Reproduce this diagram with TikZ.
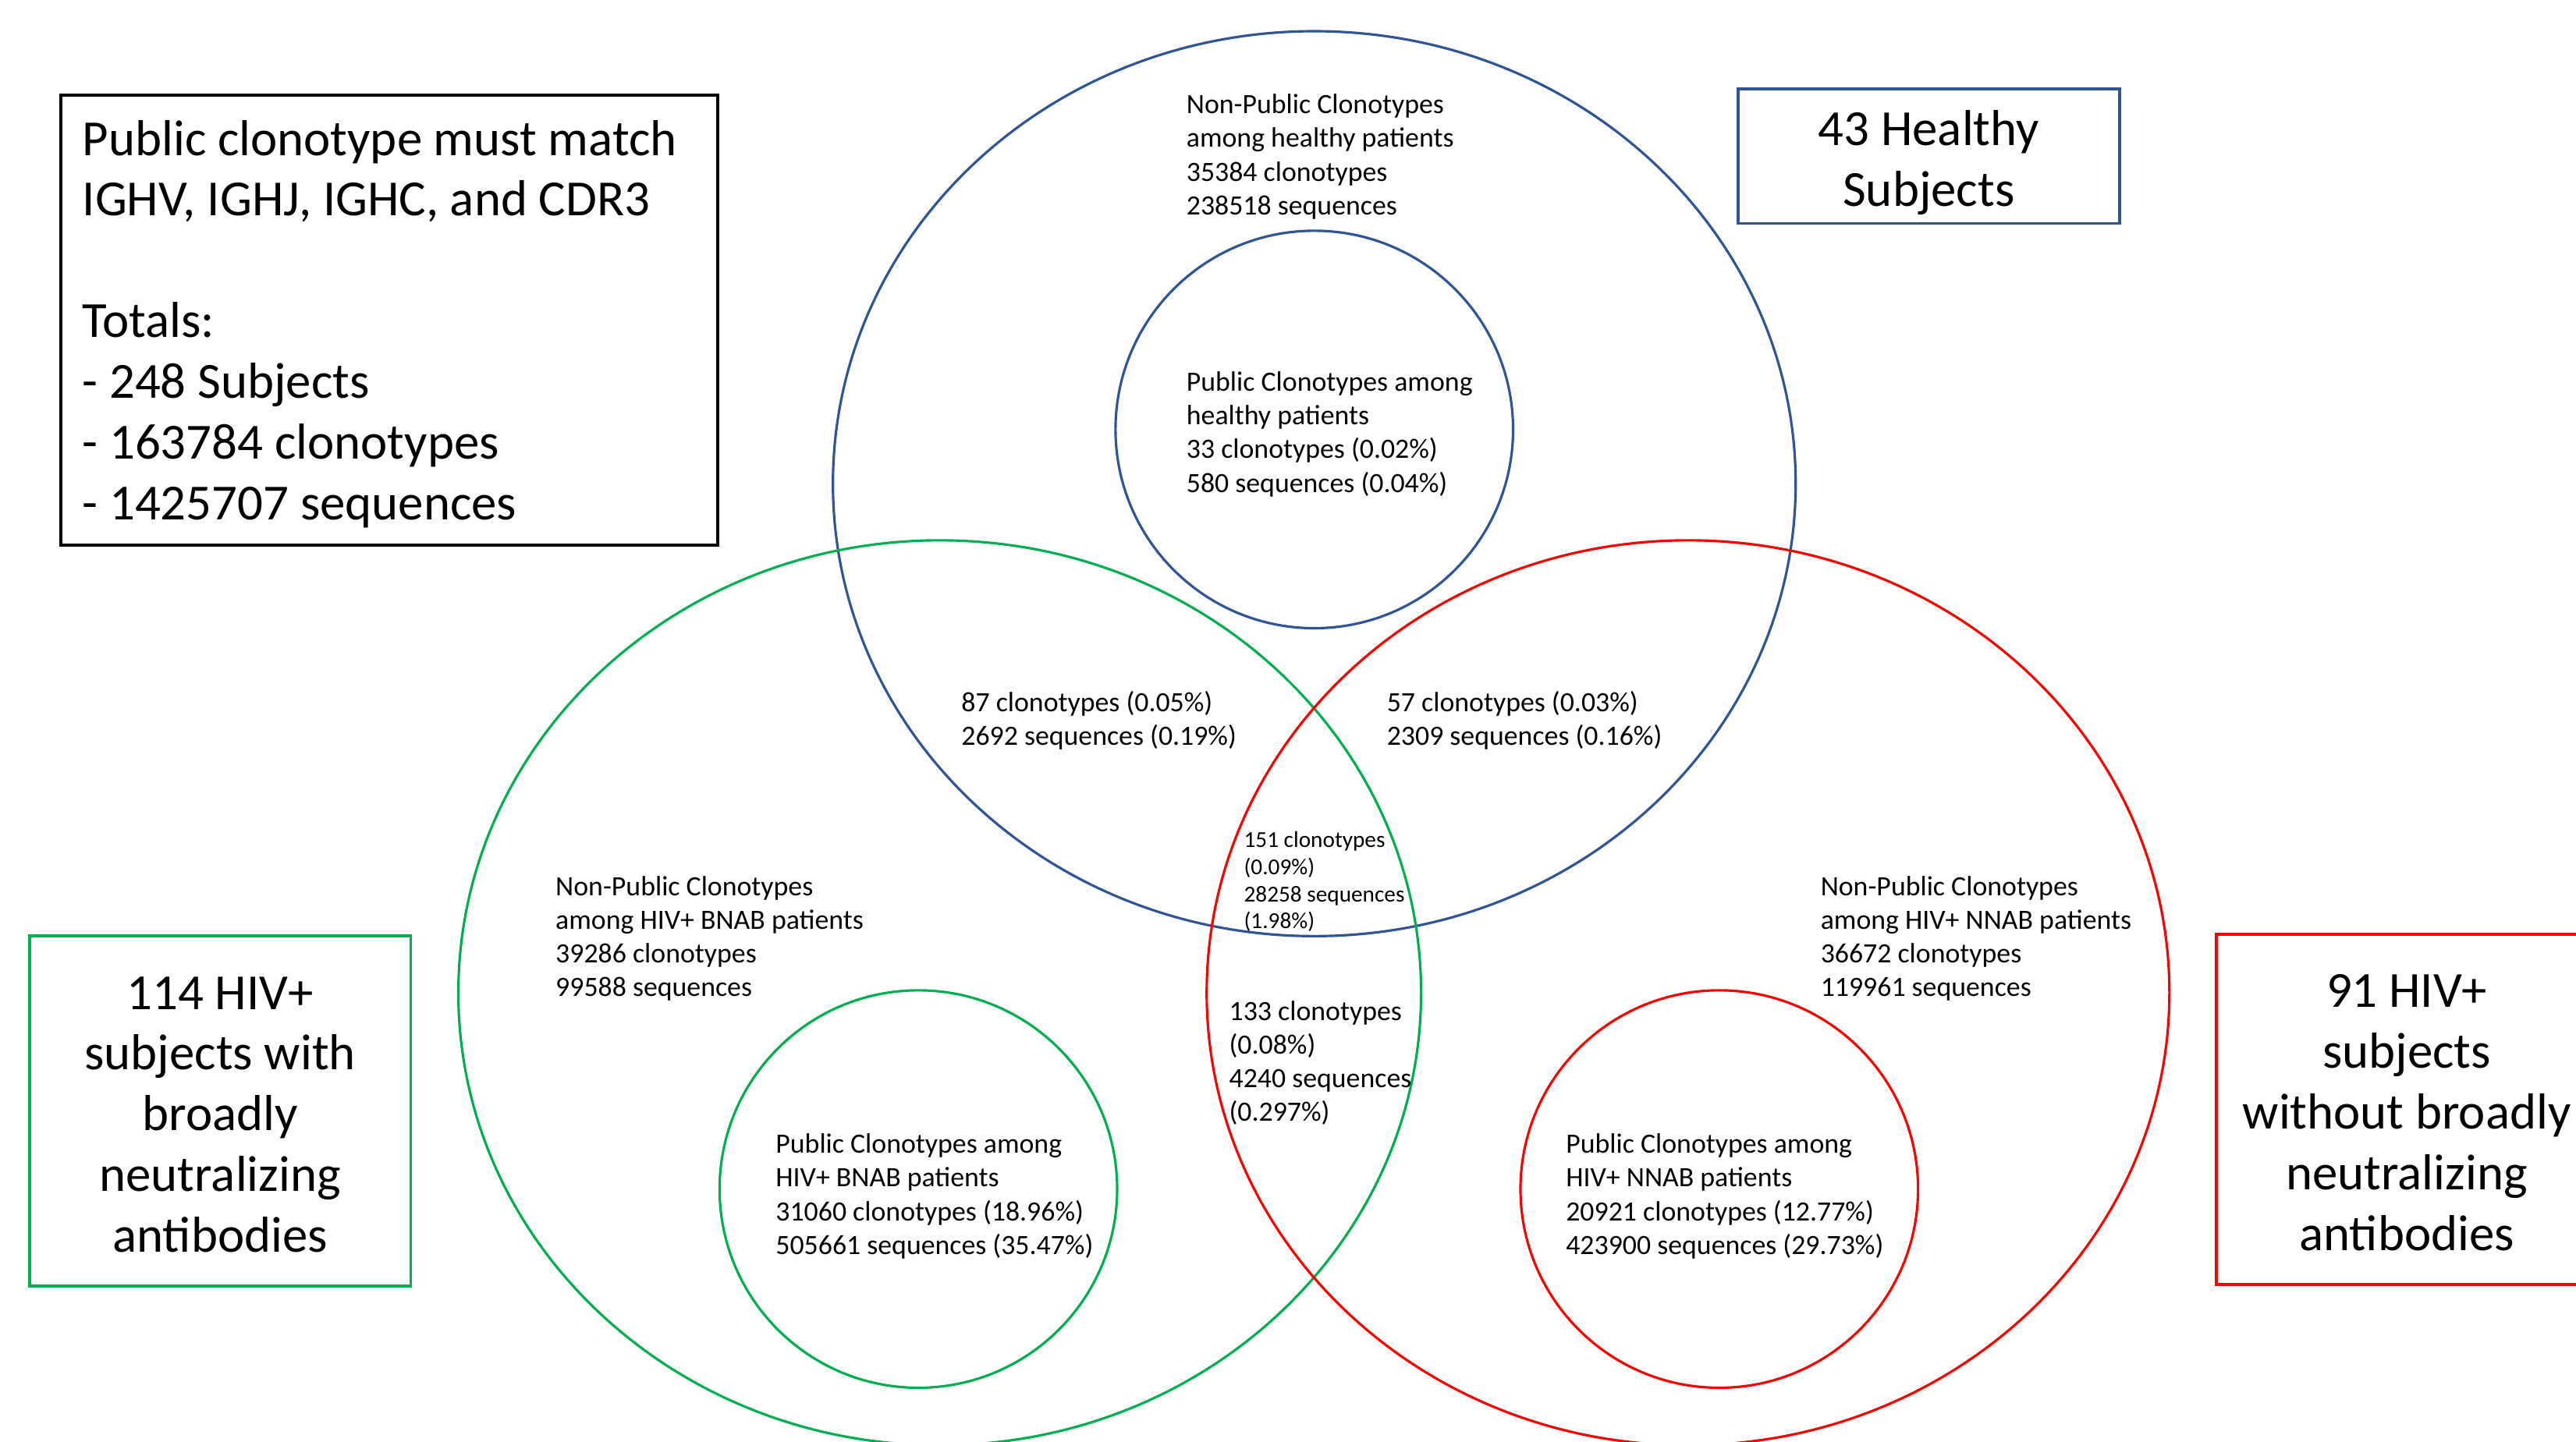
\documentclass[tikz,border=0pt]{standalone}
\usepackage{fontspec}
\setmainfont{Carlito}
\usetikzlibrary{shapes.geometric}
\definecolor{hblue}{HTML}{2F5597}
\definecolor{hgreen}{HTML}{00B050}
\definecolor{hred}{HTML}{FF0000}
\begin{document}
\begin{tikzpicture}[x=1pt,y=-1pt,
  smalltxt/.style={font=\fontsize{17}{20.5}\selectfont, align=left, anchor=north west, inner sep=0pt},
  tinytxt/.style={font=\fontsize{13.9}{16.5}\selectfont, align=left, anchor=north west, inner sep=0pt},
  bigleft/.style={font=\fontsize{30.8}{37}\selectfont, align=left, anchor=north west, inner sep=0pt},
  bigcenter/.style={font=\fontsize{30.8}{37}\selectfont, align=center, anchor=north, inner sep=0pt},
  bigset/.style={ellipse, draw=#1, line width=1.5pt, inner sep=0pt, minimum width=586pt, minimum height=551pt},
  pubset/.style={circle, draw=#1, line width=1.5pt, inner sep=0pt, minimum size=242pt},
  framebox/.style={rectangle, draw=#1, line width=1.8pt, inner sep=0pt}
]
\useasboundingbox (0,0) rectangle (1568,878);
\clip (0,0) rectangle (1568,878);
\fill[white] (0,0) rectangle (1568,878);

% sets
\node[bigset=hblue] (healthy) at (800,294.5) {};
\node[bigset=hgreen] (bnab) at (572,604.5) {};
\node[bigset=hred] (nnab) at (1027.5,604.5) {};
\node[pubset=hblue] (healthypub) at (800,261.5) {};
\node[pubset=hgreen] (bnabpub) at (559,724) {};
\node[pubset=hred] (nnabpub) at (1046.5,724) {};

% frames
\node[framebox=black, minimum width=400pt, minimum height=274pt] (infobox) at (237,195) {};
\node[framebox=hblue, minimum width=232pt, minimum height=82pt] (healthybox) at (1174,95) {};
\node[framebox=hgreen, minimum width=232pt, minimum height=213pt] (bnabbox) at (134,676.5) {};
\node[framebox=hred, minimum width=232pt, minimum height=213pt] (nnabbox) at (1465,675.5) {};

% frame texts
\node[bigleft] (infotext) at (50,68.4) {\strut Public clonotype must match\\IGHV, IGHJ, IGHC, and CDR3\\[37pt]Totals:\\- 248 Subjects\\- 163784 clonotypes\\- 1425707 sequences};
\node[bigcenter] (healthytext) at (1174,62.4) {\strut 43 Healthy\\Subjects};
\node[bigcenter] (bnabtext) at (134,588.4) {\strut 114 HIV+\\subjects with\\broadly\\neutralizing\\antibodies};
\node[bigcenter] (nnabtext) at (1465,587.4) {\strut 91 HIV+\\subjects\\without broadly\\neutralizing\\antibodies};

% set texts
\node[smalltxt] (healthynp) at (722,54.65) {\strut Non-Public Clonotypes\\among healthy patients\\35384 clonotypes\\238518 sequences};
\node[smalltxt] (healthyp) at (722,223.65) {\strut Public Clonotypes among\\healthy patients\\33 clonotypes (0.02\%)\\580 sequences (0.04\%)};
\node[smalltxt] (hb) at (585,418.65) {\strut 87 clonotypes (0.05\%)\\2692 sequences (0.19\%)};
\node[smalltxt] (hn) at (844,418.65) {\strut 57 clonotypes (0.03\%)\\2309 sequences (0.16\%)};
\node[tinytxt] (allthree) at (757,504.3) {\strut 151 clonotypes\\(0.09\%)\\28258 sequences\\(1.98\%)};
\node[smalltxt] (bnabnp) at (338,530.65) {\strut Non-Public Clonotypes\\among HIV+ BNAB patients\\39286 clonotypes\\99588 sequences};
\node[smalltxt] (bn) at (748,606.65) {\strut 133 clonotypes\\(0.08\%)\\4240 sequences\\(0.297\%)};
\node[smalltxt] (bnabp) at (472,687.65) {\strut Public Clonotypes among\\HIV+ BNAB patients\\31060 clonotypes (18.96\%)\\505661 sequences (35.47\%)};
\node[smalltxt] (nnabnp) at (1108,530.65) {\strut Non-Public Clonotypes\\among HIV+ NNAB patients\\36672 clonotypes\\119961 sequences};
\node[smalltxt] (nnabp) at (953,687.65) {\strut Public Clonotypes among\\HIV+ NNAB patients\\20921 clonotypes (12.77\%)\\423900 sequences (29.73\%)};
\end{tikzpicture}
\end{document}
